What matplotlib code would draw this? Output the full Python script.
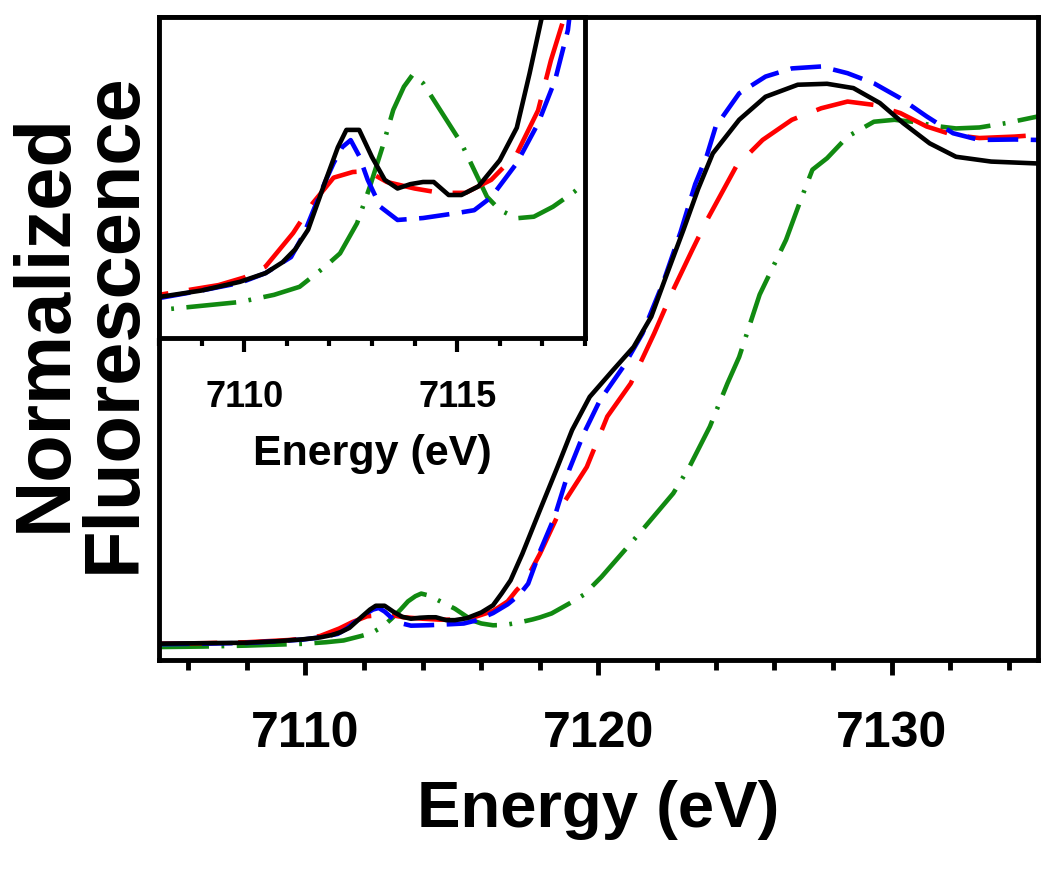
import numpy as np
import matplotlib
matplotlib.use("Agg")
import matplotlib.pyplot as plt
from matplotlib.ticker import MultipleLocator

plt.rcParams['font.family'] = ['Liberation Sans', 'DejaVu Sans']
plt.rcParams['font.weight'] = 'bold'
plt.rcParams['lines.scale_dashes'] = False

# Fe K-edge spectra, normalized fluorescence
black_e = [7105.0, 7106.5, 7108.0, 7109.0, 7109.9, 7110.5, 7110.9, 7111.2, 7111.5, 7111.9,
           7112.2, 7112.4, 7112.7, 7113.0, 7113.3, 7113.6, 7113.9, 7114.2, 7114.45, 7114.8,
           7115.1, 7115.5, 7116.0, 7116.4, 7116.7, 7117.0, 7117.4, 7118.0, 7118.6, 7119.1,
           7119.7, 7120.5, 7121.2, 7121.8, 7122.3, 7122.9, 7123.4, 7123.9, 7124.8, 7125.7,
           7126.8, 7127.8, 7128.7, 7129.6, 7130.4, 7131.3, 7132.2, 7133.4, 7135.0]
black_v = [0.003, 0.004, 0.005, 0.008, 0.012, 0.016, 0.021, 0.027, 0.036, 0.058,
           0.074, 0.082, 0.082, 0.0695, 0.059, 0.055, 0.057, 0.058, 0.058, 0.052,
           0.052, 0.056, 0.068, 0.083, 0.108, 0.135, 0.19, 0.281, 0.371, 0.448,
           0.517, 0.573, 0.621, 0.684, 0.767, 0.865, 0.95, 1.024, 1.094, 1.142,
           1.167, 1.169, 1.16, 1.129, 1.087, 1.045, 1.017, 1.007, 1.003]

blue_e = [7105.0, 7106.5, 7108.0, 7109.0, 7109.9, 7110.5, 7111.1, 7111.4, 7111.6, 7111.9,
          7112.1, 7112.3, 7112.5, 7112.7, 7112.9, 7113.2, 7113.6, 7114.2, 7115.0, 7115.4,
          7115.8, 7116.4, 7116.9, 7117.3, 7117.6, 7118.0, 7118.5, 7119.0, 7119.5, 7120.05,
          7120.85, 7121.5, 7122.2, 7122.8, 7123.3, 7123.7, 7124.0, 7124.8, 7125.7, 7126.6,
          7127.6, 7128.5, 7129.4, 7130.3, 7131.2, 7132.1, 7133.0, 7134.2, 7135.0]
blue_v = [0.002, 0.003, 0.0045, 0.008, 0.0115, 0.016, 0.0234, 0.034, 0.0437, 0.058,
          0.0667, 0.074, 0.0773, 0.070, 0.059, 0.0465, 0.0405, 0.0414, 0.0437, 0.045,
          0.051, 0.0667, 0.085, 0.105, 0.128, 0.195, 0.267, 0.365, 0.441, 0.51,
          0.58, 0.649, 0.754, 0.86, 0.96, 1.02, 1.08, 1.149, 1.184, 1.201,
          1.205, 1.191, 1.17, 1.139, 1.101, 1.066, 1.052, 1.053, 1.052]

red_e = [7105.0, 7106.5, 7108.0, 7109.4, 7110.0, 7110.5, 7111.15, 7111.6, 7112.1, 7112.55,
         7112.9, 7113.35, 7114.0, 7114.6, 7115.2, 7115.8, 7116.4, 7116.9, 7117.2, 7117.5,
         7118.0, 7118.8, 7119.6, 7120.3, 7121.1, 7121.9, 7122.55, 7123.2, 7123.7, 7124.7,
         7125.6, 7126.6, 7127.6, 7128.5, 7129.4, 7130.3, 7131.2, 7132.1, 7133.0, 7134.2,
         7135.0]
red_v = [0.003, 0.004, 0.006, 0.0105, 0.014, 0.019, 0.0345, 0.048, 0.060, 0.0626,
         0.063, 0.058, 0.055, 0.053, 0.053, 0.059, 0.071, 0.091, 0.114, 0.133,
         0.19, 0.295, 0.371, 0.476, 0.545, 0.649, 0.74, 0.823, 0.885, 0.997,
         1.052, 1.094, 1.118, 1.132, 1.125, 1.108, 1.08, 1.0625, 1.056, 1.059,
         1.0625]

green_e = [7105.0, 7106.5, 7108.0, 7109.9, 7110.7, 7111.3, 7111.9, 7112.25, 7112.65, 7112.95,
           7113.25, 7113.5, 7113.75, 7113.95, 7114.2, 7114.45, 7114.85, 7115.1, 7115.4, 7115.7,
           7116.0, 7116.4, 7116.8, 7117.25, 7117.75, 7118.0, 7118.4, 7119.1, 7119.5, 7120.1,
           7120.5, 7121.4, 7122.55, 7123.1, 7123.8, 7124.4, 7124.8, 7125.5, 7126.4, 7126.9,
           7127.3, 7127.8, 7128.5, 7129.4, 7130.1, 7130.7, 7131.65, 7132.2, 7133.0, 7133.9,
           7135.0]
green_v = [-0.004, -0.003, -0.001, 0.0027, 0.006, 0.0097, 0.019, 0.0251, 0.039, 0.0558,
           0.0743, 0.0912, 0.1019, 0.1073, 0.1035, 0.0958, 0.0835, 0.0758, 0.0635, 0.0512,
           0.0451, 0.0413, 0.042, 0.0466, 0.0535, 0.0577, 0.066, 0.09, 0.105, 0.142,
           0.17, 0.233, 0.316, 0.371, 0.455, 0.545, 0.6, 0.73, 0.844, 0.927,
           0.99, 1.014, 1.059, 1.09, 1.094, 1.09, 1.08, 1.076, 1.078, 1.087,
           1.101]

# colour, dash pattern (points)
series = [
    (green_e, green_v, '#118a11', (0, (36, 9, 2, 9))),
    (red_e, red_v, '#ff0000', (0, (42, 15))),
    (blue_e, blue_v, '#0000ff', (0, (22, 9))),
    (black_e, black_v, 'black', '-'),
]


def draw_curves(ax):
    for e, v, col, ls in series:
        ax.plot(e, v, color=col, linestyle=ls, lw=3.3)


def style_spines(ax, lw):
    for sp in ax.spines.values():
        sp.set_linewidth(lw)


fig = plt.figure(figsize=(10.5, 8.69), dpi=100)

# main panel
ax = fig.add_axes([0.1514, 0.2405, 0.8372, 0.7399])
draw_curves(ax)
ax.set_xlim(7105, 7135)
ax.set_ylim(-0.031, 1.308)
ax.set_yticks([])
ax.xaxis.set_major_locator(MultipleLocator(10))
ax.xaxis.set_minor_locator(MultipleLocator(2))
ax.tick_params(axis='x', which='major', direction='out', length=11, width=3.5,
               labelsize=36, pad=26)
ax.tick_params(axis='x', which='minor', direction='out', length=7, width=3.5)
style_spines(ax, 3.5)
ax.set_xlabel('Energy (eV)', fontsize=47, fontweight='bold', labelpad=16)

fig.text(0.076, 0.629, 'Normalized\nFluorescence', rotation=90, fontsize=56,
         fontweight='bold', ha='center', va='center', multialignment='center',
         linespacing=0.92)

# inset (pre-edge region)
axin = fig.add_axes([0.1514, 0.611, 0.4057, 0.3694])
axin.set_facecolor('white')
draw_curves(axin)
axin.set_xlim(7108, 7118)
axin.set_ylim(-0.0139, 0.134)
axin.set_yticks([])
axin.xaxis.set_major_locator(MultipleLocator(5))
axin.xaxis.set_minor_locator(MultipleLocator(1))
axin.tick_params(axis='x', which='major', direction='out', length=10, width=3,
                 labelsize=26, pad=20)
axin.tick_params(axis='x', which='minor', direction='out', length=6, width=3)
style_spines(axin, 3.5)
axin.set_xlabel('Energy (eV)', fontsize=31, fontweight='bold', labelpad=14)

fig.savefig('out.png', dpi=100)
